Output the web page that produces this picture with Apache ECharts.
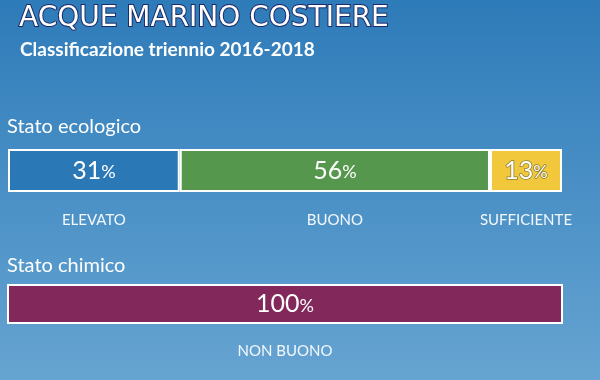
<!DOCTYPE html>
<html><head><meta charset="utf-8">
<script src="https://cdn.jsdelivr.net/npm/echarts@6/dist/echarts.min.js"></script>
<style>html,body{margin:0;padding:0;}#c{width:600px;height:380px;background:linear-gradient(180deg,#2e7bb9 0%,#4a90c6 50%,#66a4d1 100%);}</style>
</head><body><div id="c"></div>
<script>
const ecoCategories = ['ELEVATO', 'BUONO', 'SUFFICIENTE'];
const ecoValues = [31, 56, 13];
const ecoColors = ['#2a78b6', '#55974c', '#f1c83c'];
const chemCategories = ['NON BUONO'];
const chemValues = [100];
const chemColors = ['#82285a'];

const chart = echarts.init(document.getElementById('c'));
const font = 'Lato, "Open Sans", sans-serif';
const series = [];
function addGroup(cats, vals, cols, gridIndex, labDist, outline) {
  cats.forEach((c, i) => {
    const ob = outline[i];
    series.push({
      type: 'bar', name: c, stack: 'v' + gridIndex, xAxisIndex: gridIndex, yAxisIndex: gridIndex * 2,
      barWidth: '100%', data: [vals[i]],
      itemStyle: { color: cols[i], borderColor: '#ffffff', borderWidth: 2 },
      label: {
        show: true, position: 'inside', formatter: '{n|' + vals[i] + '}{p|%}',
        rich: {
          n: { fontSize: 25, color: '#fff', fontFamily: font, textBorderColor: ob || 'transparent', textBorderWidth: ob ? 1.5 : 0 },
          p: { fontSize: 18, color: '#fff', fontFamily: font, padding: [4, 0, 0, 0], textBorderColor: ob || 'transparent', textBorderWidth: ob ? 1.5 : 0 }
        }
      },
      silent: true, animation: false
    });
    series.push({
      type: 'bar', name: c + '_lab', stack: 'l' + gridIndex, xAxisIndex: gridIndex, yAxisIndex: gridIndex * 2 + 1,
      barWidth: '100%', data: [vals[i]],
      itemStyle: { color: 'transparent' },
      label: { show: true, position: 'bottom', distance: labDist, formatter: c, color: '#f4f8fc', fontSize: 15, fontFamily: font },
      silent: true, animation: false
    });
  });
}
addGroup(ecoCategories, ecoValues, ecoColors, 0, 21, [null, null, '#8c7a2a']);
addGroup(chemCategories, chemValues, chemColors, 1, 20, [null]);

const xa = (g) => ({ type: 'value', min: 0, max: 100, gridIndex: g, show: false });
const ya = (g) => ({ type: 'category', data: [''], gridIndex: g, show: false });
chart.setOption({
  animation: false,
  title: [
    { text: 'ACQUE MARINO COSTIERE', left: 19, top: 5, padding: 0, textStyle: { color: '#fff', fontSize: 28, fontWeight: 'normal', fontFamily: '"DejaVu Sans", sans-serif', textBorderColor: '#1b2a6b', textBorderWidth: 2 } },
    { text: 'Classificazione triennio 2016-2018', left: 20, top: 40, padding: 0, textStyle: { color: '#fff', fontSize: 19, fontWeight: 'bold', fontFamily: font } },
    { text: 'Stato ecologico', left: 7, top: 117, padding: 0, textStyle: { color: '#fff', fontSize: 20, fontWeight: 'normal', fontFamily: font } },
    { text: 'Stato chimico', left: 7, top: 256, padding: 0, textStyle: { color: '#fff', fontSize: 20, fontWeight: 'normal', fontFamily: font } }
  ],
  grid: [
    { left: 8, right: 38, top: 149, height: 43 },
    { left: 7, right: 37, top: 284, height: 40 }
  ],
  xAxis: [xa(0), xa(1)],
  yAxis: [ya(0), ya(0), ya(1), ya(1)],
  series: series
});
</script></body></html>
